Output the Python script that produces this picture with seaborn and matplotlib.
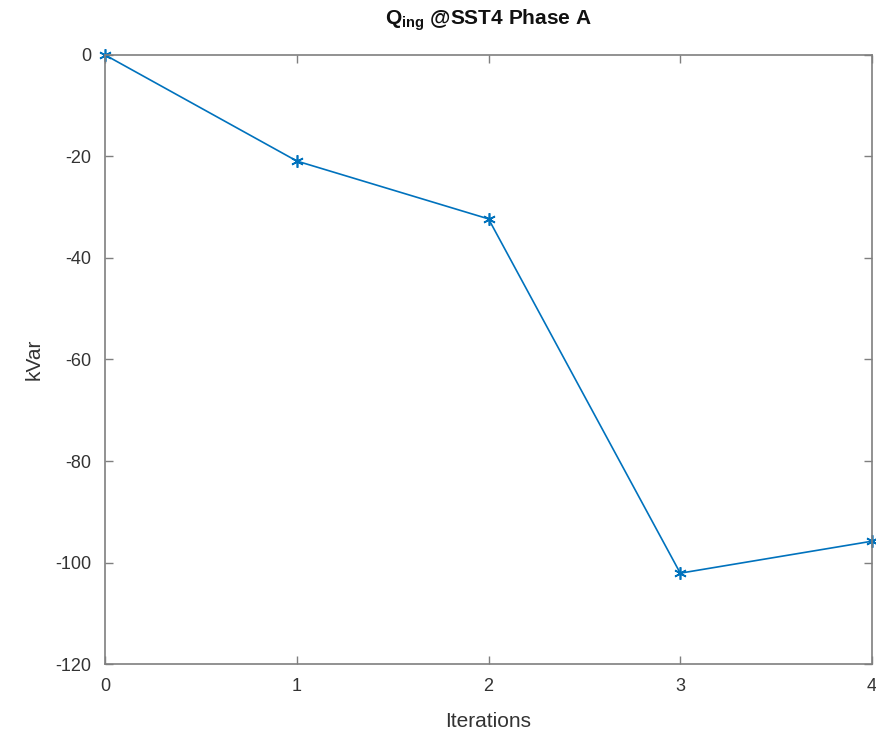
import numpy as np
import pandas as pd
import matplotlib
matplotlib.use("Agg")
import matplotlib.pyplot as plt
import seaborn as sns

iterations = [0, 1, 2, 3, 4]
kvar = [0.0, -20.9, -32.3, -102.1, -95.8]

sns.set_style("white")
plt.rcParams['font.family'] = ['Liberation Sans', 'DejaVu Sans']
plt.rcParams['mathtext.fontset'] = 'custom'
plt.rcParams['mathtext.rm'] = 'Liberation Sans'
plt.rcParams['mathtext.bf'] = 'Liberation Sans:bold'
plt.rcParams['axes.unicode_minus'] = False

df = pd.DataFrame({'Iterations': iterations, 'kVar': kvar})

fig = plt.figure(figsize=(8.76, 7.36), dpi=100)
ax = fig.add_axes([0.12, 0.0978, 0.8754, 0.8275])

line_blue = '#0072BD'
sns.lineplot(data=df, x='Iterations', y='kVar', ax=ax, color=line_blue,
             marker=(6, 2, 0), markersize=9, markeredgewidth=1.2,
             markeredgecolor=line_blue, linewidth=1.2, clip_on=False)

ax.set_xlim(0, 4)
ax.set_ylim(-120, 0)
ax.set_xticks(range(0, 5))
ax.set_yticks(range(-120, 1, 20))

# matlab-ish axes: gray box, ticks inward on all sides
for sp in ax.spines.values():
    sp.set_color('#7f7f7f')
    sp.set_linewidth(1.2)
ax.tick_params(direction='in', length=6, width=1, colors='#7f7f7f',
               labelcolor='#333333', labelsize=13, top=True, right=True,
               bottom=True, left=True, pad=10)

ax.set_xlabel('Iterations', fontsize=15, color='#333333', labelpad=12)
ax.set_ylabel('kVar', fontsize=15, color='#333333', labelpad=8)
ax.set_title(r'$\mathbf{Q_{ing}}$ @SST4 Phase A', fontsize=15,
             fontweight='bold', color='#111111', pad=22)

fig.savefig('out.png', dpi=100)
